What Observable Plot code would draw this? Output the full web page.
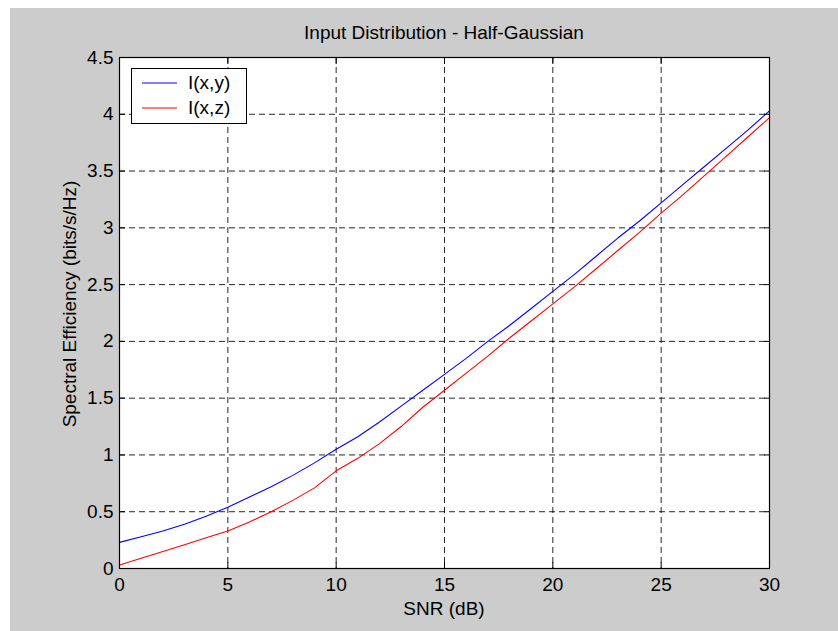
<!DOCTYPE html>
<html>
<head>
<meta charset="utf-8">
<script src="https://cdn.jsdelivr.net/npm/d3@7"></script>
<script src="https://cdn.jsdelivr.net/npm/@observablehq/plot@0.6"></script>
<style>
  html, body { margin: 0; padding: 0; background: #ffffff; }
  #wrap { position: relative; width: 838px; height: 631px; overflow: hidden; font-family: "Liberation Sans", Arial, sans-serif; color: #000; }
  #bg { position: absolute; left: 10px; top: 8px; width: 828px; height: 623px; background: #cccccc; }
  #chart { position: absolute; left: 0; top: 0; }
  .title { position: absolute; left: 119px; width: 650px; top: 22px; text-align: center; font-size: 19px; line-height: 22px; white-space: nowrap; }
  .xlabel { position: absolute; left: 119px; width: 650px; top: 598px; text-align: center; font-size: 19px; line-height: 22px; }
  .ylabel { position: absolute; left: 70px; top: 304px; transform: translate(-50%, -50%) rotate(-90deg); white-space: nowrap; font-size: 19px; line-height: 22px; }
  .legend { position: absolute; left: 131px; top: 68px; width: 116px; height: 56px; background: #fff; border: 1.5px solid #000; box-sizing: border-box; font-size: 19px; }
  .legend .row { position: absolute; left: 0; height: 24px; display: flex; align-items: center; white-space: nowrap; }
  .legend svg { margin-left: 10px; margin-right: 11px; }
</style>
</head>
<body>
<div id="wrap">
  <div id="bg"></div>
  <div id="chart"></div>
  <div class="title">Input Distribution - Half-Gaussian</div>
  <div class="xlabel">SNR (dB)</div>
  <div class="ylabel">Spectral Efficiency (bits/s/Hz)</div>
  <div class="legend" id="legend"></div>
</div>
<script>
// SNR in dB
const snr = [0,1,2,3,4,5,6,7,8,9,10,11,12,13,14,15,16,17,18,19,20,21,22,23,24,25,26,27,28,29,30];
// I(x,y)
const iXY = [0.23,0.28,0.33,0.39,0.46,0.54,0.63,0.72,0.82,0.93,1.05,1.16,1.29,1.43,1.57,1.71,1.85,2.00,2.14,2.29,2.44,2.59,2.75,2.91,3.06,3.22,3.38,3.54,3.70,3.86,4.03];
// I(x,z)
const iXZ = [0.03,0.09,0.15,0.21,0.27,0.33,0.41,0.50,0.60,0.71,0.86,0.97,1.10,1.25,1.42,1.57,1.72,1.87,2.03,2.18,2.33,2.48,2.64,2.80,2.96,3.13,3.29,3.46,3.63,3.80,3.97];

const seriesNames = ["I(x,y)", "I(x,z)"];
const seriesColors = ["#0000ff", "#ff0000"];
const xTicks = [0,5,10,15,20,25,30];
const yTicks = [0,0.5,1,1.5,2,2.5,3,3.5,4,4.5];

const rows = [];
snr.forEach((s, i) => {
  rows.push({snr: s, v: iXY[i], series: seriesNames[0]});
});
snr.forEach((s, i) => {
  rows.push({snr: s, v: iXZ[i], series: seriesNames[1]});
});

const fontStyle = {fontFamily: '"Liberation Sans", Arial, sans-serif', fontSize: "19px", background: "transparent", color: "#000", overflow: "visible"};

const plot = Plot.plot({
  width: 838,
  height: 631,
  marginLeft: 119,
  marginRight: 69,
  marginTop: 57,
  marginBottom: 63,
  style: fontStyle,
  x: {domain: [0, 30], label: null},
  y: {domain: [0, 4.5], label: null},
  color: {domain: seriesNames, range: seriesColors},
  marks: [
    Plot.frame({fill: "white", stroke: "none"}),
    Plot.gridX(xTicks, {stroke: "#000", strokeOpacity: 0.85, strokeDasharray: "6,4"}),
    Plot.gridY(yTicks, {stroke: "#000", strokeOpacity: 0.85, strokeDasharray: "6,4"}),
    Plot.line(rows, {x: "snr", y: "v", z: "series", stroke: "series", strokeWidth: 1.1}),
    Plot.frame({stroke: "#000", strokeWidth: 1.2}),
    Plot.axisX(xTicks, {anchor: "bottom", tickSize: -6, tickPadding: 15, label: null, stroke: "#000", fill: "#000"}),
    Plot.axisX(xTicks, {anchor: "top", tickSize: -6, label: null, stroke: "#000", fill: "none", tickFormat: () => ""}),
    Plot.axisY(yTicks, {anchor: "left", tickSize: -6, tickPadding: 12, label: null, stroke: "#000", fill: "#000", tickFormat: d => String(d)}),
    Plot.axisY(yTicks, {anchor: "right", tickSize: -6, label: null, stroke: "#000", fill: "none", tickFormat: () => ""})
  ]
});
document.getElementById("chart").appendChild(plot);

// legend
const leg = document.getElementById("legend");
seriesNames.forEach((name, i) => {
  const row = document.createElement("div");
  row.className = "row";
  row.style.top = (2 + i * 25) + "px";
  row.innerHTML = `<svg width="35" height="4"><line x1="0" y1="2" x2="35" y2="2" stroke="${seriesColors[i]}" stroke-width="1.2"/></svg><span>${name}</span>`;
  leg.appendChild(row);
});
</script>
</body>
</html>
